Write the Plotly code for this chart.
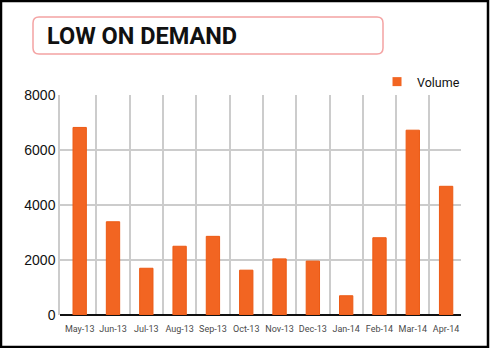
import plotly.graph_objects as go

months = ["May-13", "Jun-13", "Jul-13", "Aug-13", "Sep-13", "Oct-13",
          "Nov-13", "Dec-13", "Jan-14", "Feb-14", "Mar-14", "Apr-14"]
volume = [6820, 3390, 1700, 2500, 2860, 1630, 2040, 1960, 700, 2810, 6720, 4680]
y_ticks = [0, 2000, 4000, 6000, 8000]
title_text = "LOW ON DEMAND"
series_name = "Volume"

W, H = 490, 348
L, R, T, B = 60, 29, 95, 33
PW, PH = W - L - R, H - T - B
ORANGE = "#F26522"


def px(x):
    return (x - L) / PW


def py(y):
    return (H - B - y) / PH


idx = list(range(len(months)))
boundaries = [i + 0.5 for i in idx[:-1]]

fig = go.Figure()
fig.add_trace(go.Bar(
    x=idx, y=volume, name=series_name, width=0.4, showlegend=False,
    marker=dict(color=ORANGE, line=dict(color="#EC5A14", width=1)),
))
# legend entry (small square marker like the reference)
fig.add_trace(go.Scatter(
    x=[None], y=[None], mode="markers", name=series_name,
    marker=dict(symbol="square", size=9, color=ORANGE),
))

# rounded title box
x0, x1, y0, y1, r = px(33), px(383), py(17), py(54), 6
rx, ry = r / PW, r / PH
path = (f"M {x0+rx},{y0} L {x1-rx},{y0} Q {x1},{y0} {x1},{y0-ry} "
        f"L {x1},{y1+ry} Q {x1},{y1} {x1-rx},{y1} L {x0+rx},{y1} "
        f"Q {x0},{y1} {x0},{y1+ry} L {x0},{y0-ry} Q {x0},{y0} {x0+rx},{y0} Z")
shapes = [
    dict(type="path", xref="paper", yref="paper", path=path,
         line=dict(color="#F4A3A3", width=1.5), fillcolor="white", layer="above"),
    dict(type="rect", xref="paper", yref="paper",
         x0=px(1), x1=px(488), y0=py(1), y1=py(347),
         line=dict(color="black", width=2.5), layer="above"),
]

fig.update_layout(
    width=W, height=H,
    margin=dict(l=L, r=R, t=T, b=B, autoexpand=False),
    paper_bgcolor="white", plot_bgcolor="white",
    shapes=shapes,
    annotations=[dict(
        text=f"<b>{title_text}</b>", xref="paper", yref="paper",
        x=px(45), y=py(36), xanchor="left", yanchor="middle", showarrow=False,
        font=dict(family="Roboto", size=23.5, color="#111"),
    )],
    showlegend=True,
    legend=dict(
        x=1.01, xanchor="right", y=py(82), yanchor="middle",
        orientation="h", bgcolor="rgba(0,0,0,0)",
        font=dict(family="Roboto", size=12.5, color="#111"),
        itemwidth=30,
    ),
    xaxis=dict(
        range=[-0.591, 11.447],
        tickmode="array", tickvals=idx, ticktext=months,
        showgrid=False, zeroline=False, showline=False,
        ticks="outside", ticklen=5, tickcolor="rgba(0,0,0,0)",
        tickangle=0, automargin=False,
        tickfont=dict(family="Roboto", size=9, color="#4a4a4a"),
        minor=dict(tickmode="array", tickvals=boundaries, showgrid=True,
                   gridcolor="#CCCCCC", gridwidth=1.5, ticks=""),
    ),
    yaxis=dict(
        range=[0, 8000], tickvals=y_ticks, showgrid=True, automargin=False,
        gridcolor="#CCCCCC", gridwidth=1.5, ticks="",
        zeroline=True, zerolinecolor="#111", zerolinewidth=2,
        showline=True, linecolor="#CCCCCC", linewidth=1.5,
        tickfont=dict(family="Liberation Sans, Arial", size=14, color="#111"),
    ),
)

fig.write_html("out.html")
